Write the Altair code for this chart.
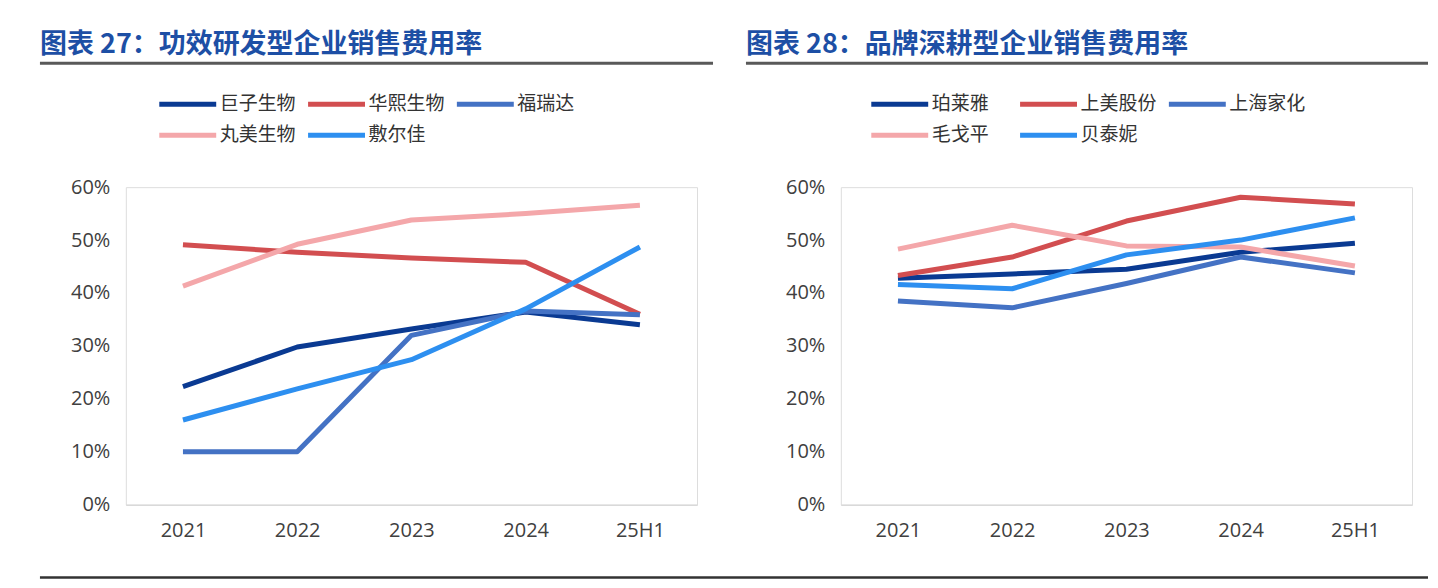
import altair as alt
import pandas as pd

years = ["2021", "2022", "2023", "2024", "25H1"]

# 图表27 功效研发型企业
left_names = ["巨子生物", "华熙生物", "福瑞达", "丸美生物", "敷尔佳"]
juzi = [22.3, 29.8, 33.2, 36.4, 34.0]
huaxi = [49.1, 47.7, 46.6, 45.8, 36.0]
furuida = [10.0, 10.0, 32.0, 36.6, 35.9]
wanmei = [41.3, 49.2, 53.8, 55.0, 56.6]
fuerjia = [16.0, 21.9, 27.4, 37.0, 48.7]

# 图表28 品牌深耕型企业
right_names = ["珀莱雅", "上美股份", "上海家化", "毛戈平", "贝泰妮"]
proya = [42.8, 43.6, 44.5, 47.7, 49.4]
shangmei = [43.3, 46.8, 53.6, 58.1, 56.8]
jiahua = [38.5, 37.2, 41.8, 46.8, 43.8]
maogeping = [48.3, 52.8, 48.9, 48.7, 45.1]
botanee = [41.6, 40.8, 47.2, 50.0, 54.2]

palette = ["#0a3a92", "#d24e50", "#4472c4", "#f4a7aa", "#2d8ff0"]

left_title = "图表 27：功效研发型企业销售费用率"
right_title = "图表 28：品牌深耕型企业销售费用率"

W, H = 572, 318
CJK = "Noto Sans CJK SC"
NUM = "Open Sans"


def make_df(names, series):
    rows = []
    for n, vals in zip(names, series):
        for yr, v in zip(years, vals):
            rows.append({"year": yr, "company": n, "rate": v / 100.0})
    return pd.DataFrame(rows)


def panel(names, series, title, legend_x, rule_x0, rule_x1, bottom_rule):
    df = make_df(names, series)
    lines = alt.Chart(df).mark_line(strokeWidth=5, strokeJoin="round").encode(
        x=alt.X("year:N", sort=years, title=None,
                scale=alt.Scale(type="point", padding=0.5),
                axis=alt.Axis(labelAngle=0, ticks=False, tickSize=0, labelPadding=16,
                              labelFontSize=20, labelFont=NUM, labelColor="#404040",
                              domainColor="#d9d9d9", domainWidth=1.5, grid=False)),
        y=alt.Y("rate:Q", title=None,
                scale=alt.Scale(domain=[0, 0.6], nice=False),
                axis=alt.Axis(format=".0%", values=[0, 0.1, 0.2, 0.3, 0.4, 0.5, 0.6],
                              ticks=False, tickSize=0, domain=False, grid=False,
                              labelPadding=16, labelFontSize=20, labelFont=NUM,
                              labelColor="#404040")),
        color=alt.Color("company:N", sort=names, title=None,
                        scale=alt.Scale(domain=names, range=palette),
                        legend=alt.Legend(orient="none", direction="horizontal",
                                          legendX=legend_x + 14, legendY=-95,
                                          columns=3, gridAlign="all",
                                          symbolType="M-3,0H3",
                                          symbolSize=361, symbolStrokeWidth=5,
                                          labelFontSize=19, labelFont=CJK,
                                          labelColor="#333333", labelOffset=20,
                                          columnPadding=1, rowPadding=9, padding=0)),
    )
    title_df = pd.DataFrame({"t": [title]})
    title_text = alt.Chart(title_df).mark_text(
        align="left", baseline="middle", font=CJK, fontSize=27, fontWeight="bold",
        color="#1d4fa5"
    ).encode(text="t:N", x=alt.value(rule_x0), y=alt.value(-142))
    top_rule = alt.Chart(title_df).mark_rule(color="#595959", strokeWidth=3).encode(
        x=alt.value(rule_x0), x2=alt.value(rule_x1), y=alt.value(-124))
    layers = [top_rule, title_text, lines]
    if bottom_rule is not None:
        bot = alt.Chart(title_df).mark_rule(color="#333333", strokeWidth=2.5).encode(
            x=alt.value(bottom_rule[0]), x2=alt.value(bottom_rule[1]), y=alt.value(H + 73))
        layers.insert(0, bot)
    return alt.layer(*layers).properties(width=W, height=H)


left = panel(left_names, [juzi, huaxi, furuida, wanmei, fuerjia], left_title,
             36, -86, 588, (-86, 1304))
right = panel(right_names, [proya, shangmei, jiahua, maogeping, botanee], right_title,
              33, -95, 588, None)

chart = alt.hconcat(left, right, spacing=144, bounds="flush").resolve_scale(
    color="independent").resolve_legend(color="independent").properties(
    padding={"left": 30, "top": 22, "right": 0, "bottom": 0}
).configure_view(stroke=None).configure(background="white")

chart.save("out.html", embed_options={"renderer": "svg", "actions": False})
